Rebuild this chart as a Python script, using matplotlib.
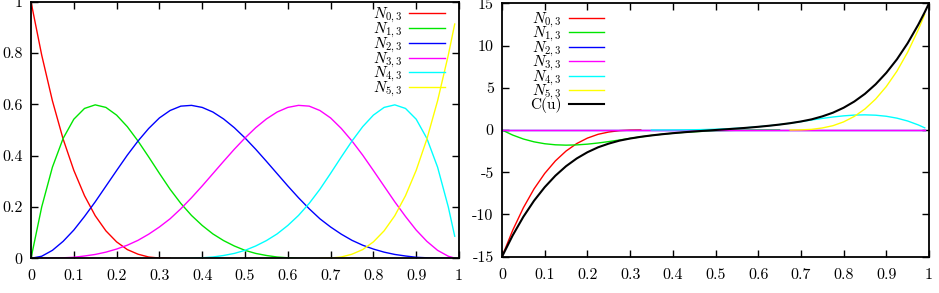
import numpy as np
import matplotlib
matplotlib.use("Agg")
import matplotlib.pyplot as plt

plt.rcParams['font.family'] = 'cmr10'
plt.rcParams['mathtext.fontset'] = 'cm'
plt.rcParams['font.size'] = 11.5

nan = np.nan

# parameter values u
u = [0.000, 0.025, 0.050, 0.075, 0.100, 0.125, 0.150, 0.175, 0.200, 0.225,
     0.250, 0.275, 0.300, 0.325, 0.350, 0.375, 0.400, 0.425, 0.450, 0.475,
     0.500, 0.525, 0.550, 0.575, 0.600, 0.625, 0.650, 0.675, 0.700, 0.725,
     0.750, 0.775, 0.800, 0.825, 0.850, 0.875, 0.900, 0.925, 0.950, 0.975,
     0.990, 1.000]

# cubic basis functions N_{i,3}(u)
# (nan = outside the function's support, not drawn)
n0 = [1.000, 0.792, 0.614, 0.465, 0.343, 0.244, 0.166, 0.107, 0.064, 0.034,
      0.016, 0.005, 0.001, 0.000, nan, nan, nan, nan, nan, nan,
      nan, nan, nan, nan, nan, nan, nan, nan, nan, nan,
      nan, nan, nan, nan, nan, nan, nan, nan, nan, nan,
      nan, nan]
n1 = [0.000, 0.200, 0.355, 0.467, 0.542, 0.584, 0.598, 0.588, 0.558, 0.513,
      0.457, 0.395, 0.331, 0.269, 0.214, 0.167, 0.128, 0.095, 0.069, 0.048,
      0.031, 0.019, 0.011, 0.005, 0.002, 0.000, 0.000, nan, nan, nan,
      nan, nan, nan, nan, nan, nan, nan, nan, nan, nan,
      nan, nan]
n2 = [0.000, 0.008, 0.031, 0.066, 0.110, 0.163, 0.220, 0.281, 0.342, 0.402,
      0.457, 0.506, 0.547, 0.576, 0.593, 0.596, 0.588, 0.570, 0.543, 0.509,
      0.469, 0.425, 0.378, 0.330, 0.282, 0.236, 0.193, 0.154, 0.122, 0.094,
      0.070, 0.051, 0.036, 0.024, 0.015, 0.009, 0.004, 0.002, 0.001, 0.000,
      0.000, 0.000]
n3 = [0.000, 0.000, 0.001, 0.002, 0.004, 0.009, 0.015, 0.024, 0.036, 0.051,
      0.070, 0.094, 0.122, 0.154, 0.193, 0.236, 0.282, 0.330, 0.378, 0.425,
      0.469, 0.509, 0.543, 0.570, 0.588, 0.596, 0.593, 0.576, 0.547, 0.506,
      0.457, 0.402, 0.342, 0.281, 0.220, 0.163, 0.110, 0.066, 0.031, 0.008,
      0.001, 0.000]
n4 = [nan, nan, nan, nan, nan, nan, nan, nan, nan, nan,
      nan, nan, nan, nan, 0.000, 0.000, 0.002, 0.005, 0.011, 0.019,
      0.031, 0.048, 0.069, 0.095, 0.128, 0.167, 0.214, 0.269, 0.331, 0.395,
      0.457, 0.513, 0.558, 0.588, 0.598, 0.584, 0.542, 0.467, 0.355, 0.200,
      0.086, 0.000]
n5 = [nan, nan, nan, nan, nan, nan, nan, nan, nan, nan,
      nan, nan, nan, nan, nan, nan, nan, nan, nan, nan,
      nan, nan, nan, nan, nan, nan, nan, 0.000, 0.001, 0.005,
      0.016, 0.034, 0.064, 0.107, 0.166, 0.244, 0.343, 0.465, 0.614, 0.792,
      0.913, 1.000]

# control points weighting each basis function (right plot)
ctrl = [-15, -3, 0, 0, 3, 15]

basis = [n0, n1, n2, n3, n4, n5]
labels = [r'$N_{%d,3}$' % i for i in range(6)]
colors = ['#ff0000', '#00e600', '#0000ff', '#ff00ff', '#00ffff', '#ffff00']

fig = plt.figure(figsize=(9.39, 2.93), dpi=100)
W, H = 939.0, 293.0
ax1 = fig.add_axes([31 / W, 1 - 258.3 / H, 428 / W, 256.6 / H])
ax2 = fig.add_axes([502 / W, 1 - 256.7 / H, 427 / W, 253.4 / H])

uu = np.array(u)
# left: basis functions (sampled up to 0.99)
for n, lab, c in zip(basis, labels, colors):
    ax1.plot(uu[:-1], np.array(n)[:-1], color=c, lw=1.0, label=lab)

# right: weighted basis functions and the curve C(u)
total = np.zeros(len(u))
for n, p, lab, c in zip(basis, ctrl, labels, colors):
    w = p * np.array(n)
    total += np.nan_to_num(w)
    ax2.plot(uu[:-1], w[:-1], color=c, lw=1.0, label=lab)
ax2.plot(uu, total, color='black', lw=1.5, label='C(u)')

xt = [0, 0.1, 0.2, 0.3, 0.4, 0.5, 0.6, 0.7, 0.8, 0.9, 1]
xl = ['0', '0.1', '0.2', '0.3', '0.4', '0.5', '0.6', '0.7', '0.8', '0.9', '1']
for ax in (ax1, ax2):
    ax.set_xlim(0, 1)
    ax.set_xticks(xt)
    ax.set_xticklabels(xl)
    ax.tick_params(direction='in', top=True, right=True, length=5, width=1.0,
                   labelsize=11.5)
    ax.tick_params(axis='x', pad=8)
    ax.tick_params(axis='y', pad=6)
    for s in ax.spines.values():
        s.set_linewidth(1.3)

ax1.set_ylim(0, 1)
ax1.set_yticks([0, 0.2, 0.4, 0.6, 0.8, 1])
ax1.set_yticklabels(['0', '0.2', '0.4', '0.6', '0.8', '1'])
ax2.set_ylim(-15, 15)
ax2.set_yticks([-15, -10, -5, 0, 5, 10, 15])
ax2.set_yticklabels(['-15', '-10', '-5', '0', '5', '10', '15'])

ax1.legend(loc='upper right', bbox_to_anchor=(0.978, 1.0), frameon=False,
           markerfirst=False, handlelength=2.35, handletextpad=0.46,
           labelspacing=-0.29, borderpad=0.3, borderaxespad=0.0, fontsize=11)
ax2.legend(loc='upper left', bbox_to_anchor=(0.048, 1.0), frameon=False,
           markerfirst=False, handlelength=2.35, handletextpad=0.46,
           labelspacing=-0.31, borderpad=0.49, borderaxespad=0.0, fontsize=11)

fig.savefig('out.png', dpi=100)
